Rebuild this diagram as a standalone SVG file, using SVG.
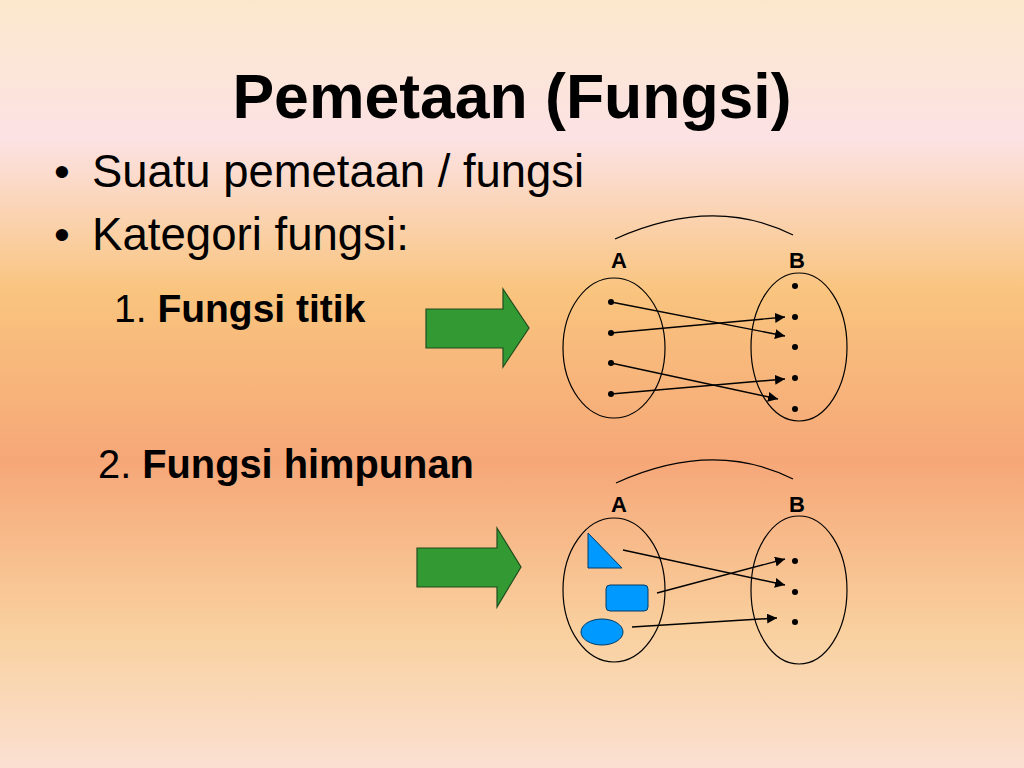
<svg xmlns="http://www.w3.org/2000/svg" width="1024" height="768" viewBox="0 0 1024 768">
<defs>
<linearGradient id="bg" x1="0" y1="0" x2="0" y2="1">
<stop offset="0" stop-color="#fbe8cc"/>
<stop offset="0.18" stop-color="#fce2e4"/>
<stop offset="0.38" stop-color="#f9c47e"/>
<stop offset="0.6" stop-color="#f6a778"/>
<stop offset="0.82" stop-color="#f9d09e"/>
<stop offset="1" stop-color="#fbe0d2"/>
</linearGradient>
<marker id="ah" viewBox="0 0 10 10" refX="10" refY="5" markerWidth="10" markerHeight="10" markerUnits="userSpaceOnUse" orient="auto">
<path d="M0,0 L10,5 L0,10 z" fill="#000"/>
</marker>
<style>
.t{font-family:"Liberation Sans",Arial,sans-serif;fill:#000}
.b{font-weight:bold}
.set{fill:none;stroke:#000;stroke-width:1.2}
.arc{fill:none;stroke:#000;stroke-width:1.2}
.dot{fill:#000}
.big{fill:#339933;stroke:#1e4d1e;stroke-width:1.2}
.shape{fill:#0099ff;stroke:#003a66;stroke-width:1}
.con{stroke:#000;stroke-width:1.4;fill:none;marker-end:url(#ah)}
</style>
</defs>
<rect x="0" y="0" width="1024" height="768" fill="url(#bg)"/>

<g id="title"><text class="t b" x="512" y="118" font-size="62.5" text-anchor="middle">Pemetaan (Fungsi)</text></g>
<g id="bullets">
<text class="t" x="54" y="187" font-size="45">•</text>
<text class="t" x="92" y="187" font-size="45.4">Suatu pemetaan / fungsi</text>
<text class="t" x="54" y="250" font-size="45">•</text>
<text class="t" x="92" y="250" font-size="45.6">Kategori fungsi:</text>
<text class="t" x="114" y="322" font-size="39">1. <tspan class="b">Fungsi titik</tspan></text>
<text class="t" x="98" y="478" font-size="39.8">2. <tspan class="b">Fungsi himpunan</tspan></text>
</g>

<g id="arrow1"><polygon class="big" points="426,309 503,309 503,289 529,328 503,367 503,348 426,348"/></g>
<g id="arrow2"><polygon class="big" points="417,548 497,548 497,528 521,567 497,607 497,587 417,587"/></g>

<g id="diagram1">
<path class="arc" d="M615,239 Q713,195 793,235"/>
<text class="t b" x="619" y="268" font-size="22" text-anchor="middle">A</text>
<text class="t b" x="797" y="268" font-size="22" text-anchor="middle">B</text>
<g id="set1A"><ellipse class="set" cx="614" cy="348" rx="51" ry="70"/>
<circle class="dot" cx="611" cy="302" r="3"/><circle class="dot" cx="611" cy="333" r="3"/><circle class="dot" cx="611" cy="363" r="3"/><circle class="dot" cx="611" cy="394" r="3"/></g>
<g id="set1B"><ellipse class="set" cx="799" cy="347" rx="48" ry="74"/>
<circle class="dot" cx="795" cy="286" r="3"/><circle class="dot" cx="795" cy="317" r="3"/><circle class="dot" cx="795" cy="347" r="3"/><circle class="dot" cx="795" cy="378" r="3"/><circle class="dot" cx="795" cy="409" r="3"/></g>
</g>

<g id="diagram2">
<path class="arc" d="M616,483 Q713,439 793,479"/>
<text class="t b" x="619" y="512" font-size="22" text-anchor="middle">A</text>
<text class="t b" x="797" y="512" font-size="22" text-anchor="middle">B</text>
<g id="set2A"><ellipse class="set" cx="614" cy="590" rx="51" ry="72"/>
<polygon class="shape" points="588,533 588,568 622,568"/>
<rect class="shape" x="606" y="585" width="42" height="26" rx="4"/>
<ellipse class="shape" cx="602" cy="632" rx="21" ry="13"/></g>
<g id="set2B"><ellipse class="set" cx="799" cy="590" rx="48" ry="74"/>
<circle class="dot" cx="795" cy="561" r="3"/><circle class="dot" cx="795" cy="592" r="3"/><circle class="dot" cx="795" cy="622" r="3"/></g>
</g>

<g id="connectors">
<line class="con" x1="611" y1="302" x2="785" y2="336"/>
<line class="con" x1="611" y1="333" x2="785" y2="317"/>
<line class="con" x1="611" y1="363" x2="778" y2="399"/>
<line class="con" x1="611" y1="394" x2="785" y2="379"/>
<line class="con" x1="623" y1="550" x2="785" y2="585"/>
<line class="con" x1="657" y1="593" x2="785" y2="559"/>
<line class="con" x1="632" y1="627" x2="777" y2="618"/>
</g>
</svg>
